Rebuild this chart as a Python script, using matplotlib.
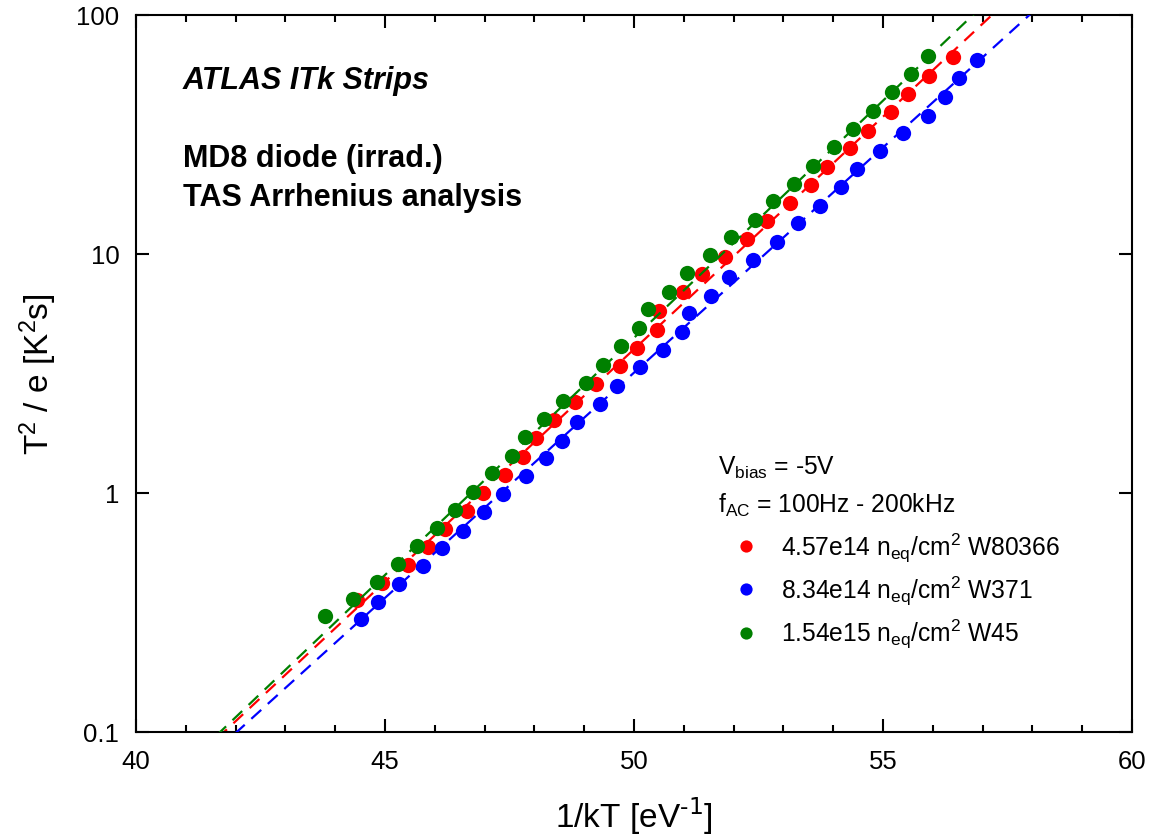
import matplotlib
matplotlib.use('Agg')
import matplotlib.pyplot as plt
import numpy as np

plt.rcParams['font.family'] = ['Liberation Sans', 'DejaVu Sans']
plt.rcParams['mathtext.default'] = 'regular'

# 1/kT [eV^-1] and T^2/e [K^2 s]
x_red = [44.44, 44.94, 45.46, 45.86, 46.20, 46.65, 46.97, 47.41, 47.77, 48.03,
         48.39, 48.82, 49.24, 49.72, 50.06, 50.46, 50.50, 50.98, 51.37, 51.83,
         52.27, 52.67, 53.13, 53.55, 53.88, 54.34, 54.70, 55.16, 55.50, 55.92, 56.41]
y_red = [0.357, 0.420, 0.500, 0.594, 0.707, 0.841, 1.00, 1.19, 1.41, 1.70,
         2.02, 2.40, 2.86, 3.40, 4.04, 4.81, 5.77, 6.93, 8.25, 9.71,
         11.6, 13.7, 16.3, 19.4, 23.1, 27.8, 32.7, 39.3, 46.7, 55.6, 66.7]

x_blue = [44.52, 44.86, 45.28, 45.76, 46.14, 46.57, 46.99, 47.37, 47.83, 48.23,
          48.55, 48.86, 49.32, 49.66, 50.12, 50.58, 50.96, 51.10, 51.55, 51.91,
          52.39, 52.87, 53.29, 53.73, 54.16, 54.48, 54.94, 55.40, 55.90, 56.25,
          56.53, 56.89]
y_blue = [0.297, 0.350, 0.416, 0.495, 0.589, 0.693, 0.833, 0.99, 1.18, 1.40,
          1.65, 1.98, 2.36, 2.80, 3.37, 3.97, 4.72, 5.66, 6.67, 8.01,
          9.44, 11.2, 13.5, 15.9, 19.1, 22.7, 27.0, 32.1, 37.8, 45.4,
          54.5, 64.8]

x_green = [43.80, 44.36, 44.84, 45.26, 45.64, 46.04, 46.41, 46.77, 47.15, 47.55,
           47.81, 48.19, 48.57, 49.04, 49.38, 49.74, 50.10, 50.28, 50.70, 51.06,
           51.53, 51.95, 52.43, 52.79, 53.21, 53.59, 54.02, 54.40, 54.80, 55.18,
           55.56, 55.90]
y_green = [0.306, 0.360, 0.424, 0.505, 0.600, 0.714, 0.849, 1.01, 1.21, 1.43,
           1.71, 2.04, 2.43, 2.89, 3.43, 4.12, 4.90, 5.89, 6.93, 8.33,
           9.91, 11.8, 13.9, 16.7, 19.6, 23.4, 28.0, 33.3, 39.7, 47.6,
           56.6, 67.4]

# Arrhenius fits: activation energy [eV] and 1/kT where T^2/e = 1
fit_ea = [0.448, 0.434, 0.457]
fit_x1 = [46.91, 47.33, 46.73]

labels = [r'4.57e14 $n_{eq}/cm^2$ W80366',
          r'8.34e14 $n_{eq}/cm^2$ W371',
          r'1.54e15 $n_{eq}/cm^2$ W45']
colors = ['#ff0000', '#0000ff', '#008000']


def main():
    fig = plt.figure(figsize=(11.66, 8.37), dpi=100)
    ax = fig.add_axes([0.1166, 0.1243, 0.8542, 0.8566])

    xs = [x_red, x_blue, x_green]
    ys = [y_red, y_blue, y_green]
    xl = np.linspace(40, 60, 200)
    for i in range(3):
        ax.plot(xs[i], ys[i], 'o', color=colors[i], ms=11, mec='none',
                label=labels[i], zorder=2 + i)
        yl = np.exp(fit_ea[i] * (xl - fit_x1[i]))
        ax.plot(xl, yl, '--', color=colors[i], lw=1.6, dashes=(6, 4),
                zorder=2 + i)

    ax.set_yscale('log')
    ax.set_xlim(40, 60)
    ax.set_ylim(0.1, 100)
    ax.set_xticks([40, 45, 50, 55, 60])
    ax.set_xticks(np.arange(40, 61, 1), minor=True)
    ax.set_yticks([0.1, 1, 10, 100])
    ax.set_yticklabels(['0.1', '1', '10', '100'])
    ax.yaxis.set_minor_locator(matplotlib.ticker.NullLocator())
    ax.tick_params(which='both', direction='in', top=True, right=True,
                   width=1.5, labelsize=18.5)
    ax.tick_params(which='major', length=9.5)
    ax.tick_params(which='minor', length=5)
    ax.tick_params(axis='x', pad=12)
    ax.tick_params(axis='y', pad=12)
    for s in ax.spines.values():
        s.set_linewidth(1.5)

    ax.set_xlabel(r'1/kT [eV$^{\text{-1}}$]', fontsize=24, labelpad=16)
    ax.set_ylabel(r'$T^2$ / e [$K^2s$]', fontsize=24, labelpad=12)

    ax.text(0.047, 0.909, 'ATLAS ITk Strips', transform=ax.transAxes,
            fontsize=22, fontweight='bold', fontstyle='italic', va='center')
    ax.text(0.047, 0.801, 'MD8 diode (irrad.)', transform=ax.transAxes,
            fontsize=22, fontweight='bold', va='center')
    ax.text(0.047, 0.746, 'TAS Arrhenius analysis', transform=ax.transAxes,
            fontsize=22, fontweight='bold', va='center')

    ax.text(0.584, 0.370, r'$V_{bias}$ = -5V', transform=ax.transAxes,
            fontsize=17.7, va='center')
    ax.text(0.584, 0.318, r'$f_{AC}$ = 100Hz - 200kHz', transform=ax.transAxes,
            fontsize=17.7, va='center')

    ax.legend(loc='upper left', bbox_to_anchor=(0.600, 0.281), frameon=False,
              fontsize=17.7, handlelength=1.0, handletextpad=0.95,
              borderpad=0, borderaxespad=0, labelspacing=0.42, numpoints=1,
              markerscale=0.8)

    fig.savefig('out.png', dpi=100)


if __name__ == "__main__":
    main()
